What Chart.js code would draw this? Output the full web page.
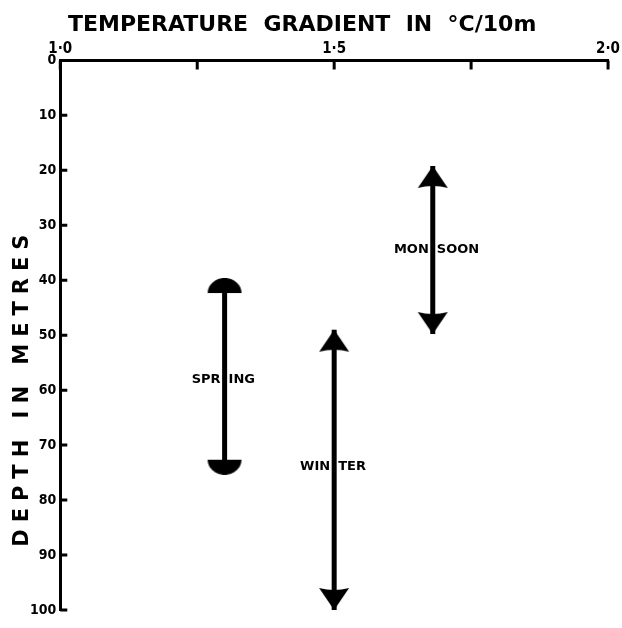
<!DOCTYPE html>
<html>
<head>
<meta charset="utf-8">
<script src="https://cdn.jsdelivr.net/npm/chart.js@4.4.0/dist/chart.umd.min.js"></script>
<style>
  html, body { margin: 0; background: #fff; }
  #wrap { width: 622px; height: 628px; }
</style>
</head>
<body>
<div id="wrap"><canvas id="c"></canvas></div>
<script>
// data
const seasons = ['SPRING', 'WINTER', 'MONSOON'];
const gradient = [1.30, 1.50, 1.68];      // °C/10m
const depthTop = [39.6, 49, 19.2];        // m
const depthBottom = [75.4, 100, 49.8];    // m
const endStyle = ['cap', 'arrow', 'arrow'];
const labelDepth = [58, 74, 34.5];
const labelLeft = ['SPR', 'WIN', 'MON'];
const labelRight = ['ING', 'TER', 'SOON'];
const xTicks = [1.0, 1.25, 1.5, 1.75, 2.0];
const xTickLabels = ['1·0', '', '1·5', '', '2·0'];
const yTicks = [0, 10, 20, 30, 40, 50, 60, 70, 80, 90, 100];
const yTitle = 'DEPTH IN METRES';
const yTitleDepth = 60;   // where the rotated title is centred

const INK = '#000';
const FONT = "'DejaVu Sans', sans-serif";
const NARROW = "'DejaVu Sans Condensed', 'DejaVu Sans', sans-serif";

// end markers: the data point sits at the tip, shape hangs below it
function makeArrow() {
    const cv = document.createElement('canvas');
    cv.width = 32; cv.height = 50;
    const g = cv.getContext('2d');
    g.fillStyle = INK;
    g.beginPath();
    g.moveTo(16, 25);
    g.lineTo(31, 47);
    g.quadraticCurveTo(16, 43, 1, 47);
    g.closePath();
    g.fill();
    return cv;
}
function makeCap() {
    const cv = document.createElement('canvas');
    cv.width = 36; cv.height = 40;
    const g = cv.getContext('2d');
    g.fillStyle = INK;
    g.beginPath();
    g.ellipse(18, 35, 17, 15, 0, Math.PI, 2 * Math.PI);
    g.closePath();
    g.fill();
    return cv;
}
const arrowImg = makeArrow();
const capImg = makeCap();

const datasets = seasons.map((name, i) => {
    const img = endStyle[i] === 'cap' ? capImg : arrowImg;
    return {
        label: name,
        data: [{ x: gradient[i], y: depthTop[i] }, { x: gradient[i], y: depthBottom[i] }],
        showLine: true,
        borderColor: INK,
        borderWidth: 5,
        pointStyle: [img, img],
        rotation: [0, 180],
        pointRadius: 6,
        clip: false
    };
});

// inward ticks, the split season names and the rotated depth title
const figurePlugin = {
    id: 'figure',
    afterDraw(chart) {
        const { ctx, chartArea: a, scales: { x, y } } = chart;
        ctx.save();
        ctx.strokeStyle = INK;
        ctx.lineWidth = 3;
        ctx.beginPath();
        xTicks.forEach(v => {
            const px = x.getPixelForValue(v);
            ctx.moveTo(px, a.top);
            ctx.lineTo(px, a.top + 9);
        });
        yTicks.forEach(v => {
            const py = y.getPixelForValue(v);
            ctx.moveTo(a.left, py);
            ctx.lineTo(a.left + 7, py);
        });
        ctx.stroke();

        ctx.fillStyle = INK;
        ctx.font = "bold 13px " + FONT;
        ctx.textBaseline = 'middle';
        seasons.forEach((s, i) => {
            const px = x.getPixelForValue(gradient[i]);
            const py = y.getPixelForValue(labelDepth[i]);
            ctx.textAlign = 'right';
            ctx.fillText(labelLeft[i], px - 4, py);
            ctx.textAlign = 'left';
            ctx.fillText(labelRight[i], px + 4, py);
        });

        ctx.translate(23, y.getPixelForValue(yTitleDepth));
        ctx.rotate(-Math.PI / 2);
        ctx.textAlign = 'center';
        ctx.font = "bold 21px " + FONT;
        ctx.letterSpacing = '7px';
        ctx.fillText(yTitle, 3, 0);
        ctx.restore();
    }
};

new Chart(document.getElementById('c'), {
    type: 'scatter',
    data: { datasets },
    options: {
        responsive: true,
        maintainAspectRatio: false,
        animation: false,
        events: [],
        layout: { padding: { top: 12, right: 0, bottom: 18, left: 26 } },
        plugins: { legend: { display: false }, tooltip: { enabled: false } },
        scales: {
            x: {
                type: 'linear',
                position: 'top',
                min: 1, max: 2,
                afterBuildTicks: s => { s.ticks = xTicks.map(v => ({ value: v })); },
                grid: { display: false, drawTicks: false },
                border: { display: true, color: INK, width: 3 },
                ticks: {
                    color: INK,
                    padding: 2,
                    maxRotation: 0,
                    autoSkip: false,
                    font: { family: NARROW, size: 15, weight: 'bold' },
                    callback: (v, i) => xTickLabels[i]
                },
                title: {
                    display: true,
                    align: 'start',
                    text: ' TEMPERATURE  GRADIENT  IN  °C/10m',
                    color: INK,
                    font: { family: FONT, size: 22, weight: 'bold' },
                    padding: { top: 0, bottom: 0 }
                }
            },
            y: {
                type: 'linear',
                reverse: true,
                min: 0, max: 100,
                afterBuildTicks: s => { s.ticks = yTicks.map(v => ({ value: v })); },
                grid: { display: false, drawTicks: false },
                border: { display: true, color: INK, width: 3 },
                ticks: {
                    color: INK,
                    padding: 4,
                    autoSkip: false,
                    font: { family: NARROW, size: 14, weight: 'bold' }
                }
            }
        }
    },
    plugins: [figurePlugin]
});
</script>
</body>
</html>
